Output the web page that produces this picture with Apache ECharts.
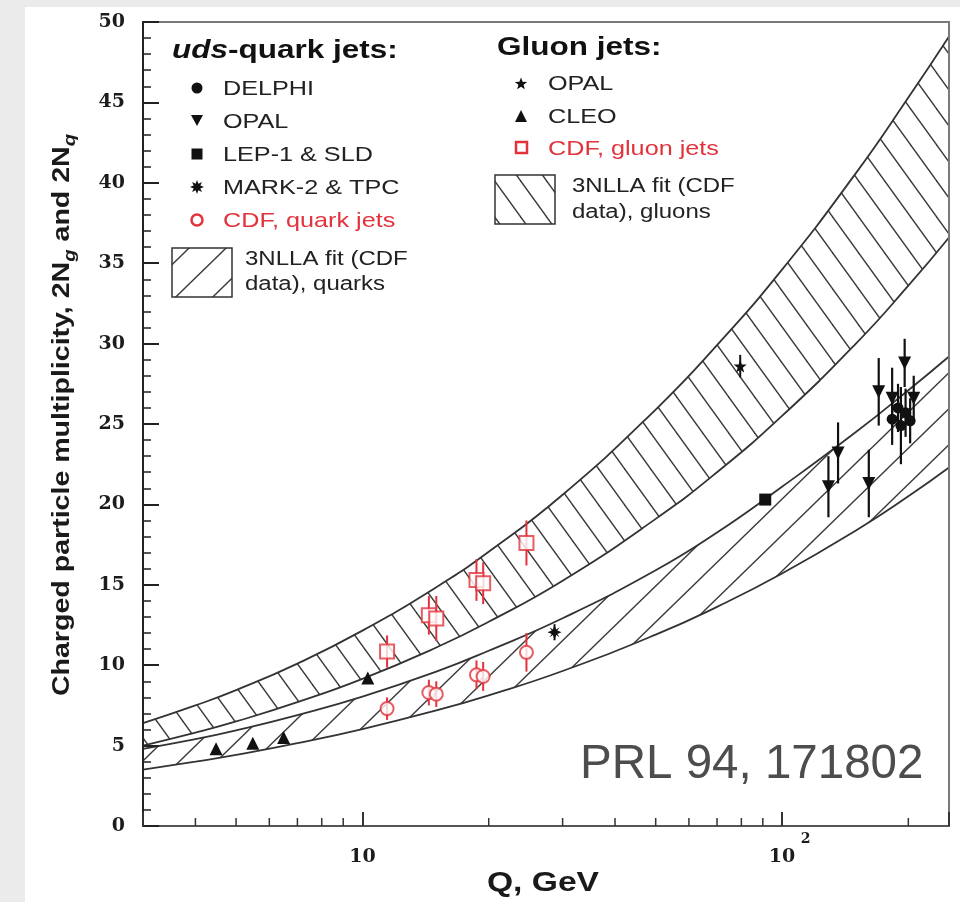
<!DOCTYPE html>
<html>
<head>
<meta charset="utf-8">
<script src="https://cdn.jsdelivr.net/npm/echarts@6.0.0/dist/echarts.min.js"></script>
<style>
  html, body { margin: 0; padding: 0; background: #ebebeb; }
  #panel { position: absolute; left: 25px; top: 7px; width: 935px; height: 895px; background: #fff; }
  #chart { position: absolute; left: 0; top: 0; width: 960px; height: 902px; }
</style>
</head>
<body>
<div id="panel"></div>
<div id="chart"></div>
<script>
// ---- 3NLLA fit bands (CDF data), tabulated at these energies Q (GeV) ----
const fitQ           = [3,   4,   5,    7,    10,    15,    20,    30,    50,   70,    100,  150,   200,   250];
const gluonFitUpper  = [6.4, 7.5, 8.45, 10.1, 12.15, 14.85, 17.05, 20.6,  25.9, 29.9,  34.6, 40.6,  45.3,  49.1];
const gluonFitLower  = [5.0, 5.8, 6.5,  7.7,  9.15,  11.1,  12.7,  15.25, 19.1, 22.0,  25.5, 30.0,  33.6,  36.6];
const quarkFitUpper  = [4.8, 5.4, 5.95, 6.9,  8.05,  9.6,   10.9,  12.92, 15.9, 18.25, 21.1, 24.5,  27.1,  29.2];
const quarkFitLower  = [3.5, 4.0, 4.42, 5.15, 6.03,  7.19,  8.13,  9.64,  11.9, 13.63, 15.7, 18.38, 20.51, 22.3];

// ---- measurements: [Q (GeV), 2N, error] ----
const delphiQuark = [[183, 25.3, 1.6], [189, 26.0, 1.5], [192, 24.9, 2.4], [197, 25.7, 1.5], [202, 25.2, 1.4]];
const opalQuark   = [[129, 21.1, 1.9], [136, 23.2, 1.9], [161, 21.3, 2.1], [170, 27.0, 2.1], [183, 26.6, 1.9], [196, 28.8, 1.5], [206, 26.6, 1.4]];
const lepSldQuark = [[91.2, 20.3, 0.3]];
const mark2Quark  = [[28.7, 12.05, 0.5]];
const cdfQuark    = [[11.45, 7.3, 0.7], [14.4, 8.3, 0.8], [15.0, 8.2, 0.8], [18.7, 9.4, 0.9], [19.4, 9.3, 0.9], [24.6, 10.8, 1.2]];
const opalGluon   = [[79.5, 28.6, 0.7]];
const cleoGluon   = [[4.48, 4.8, 0.1], [5.48, 5.15, 0.1], [6.49, 5.5, 0.1], [10.3, 9.2, 0.15]];
const cdfGluon    = [[11.45, 10.85, 1.0], [14.4, 13.1, 1.2], [15.0, 12.9, 1.4], [18.7, 15.3, 1.3], [19.4, 15.1, 1.3], [24.6, 17.6, 1.4]];

// ---- axis ticks ----
const yTickValues   = [0, 5, 10, 15, 20, 25, 30, 35, 40, 45, 50];
const xLabelValues  = [10, 100];
const xMinorTicks   = [4, 5, 6, 7, 8, 9, 20, 30, 40, 50, 60, 70, 80, 90, 200];

const RED = '#e2333c';
const INK = '#222';
const LINE = '#333';

// Hatch tile: dir = 1 draws '\' strokes, dir = -1 draws '/' strokes
function hatch(w, h, dir, lw, color) {
  const c = document.createElement('canvas');
  c.width = w; c.height = h;
  const g = c.getContext('2d');
  g.fillStyle = '#fff'; g.fillRect(0, 0, w, h);
  g.strokeStyle = color; g.lineWidth = lw;
  for (let k = -1; k <= 1; k++) {
    g.beginPath();
    if (dir > 0) { g.moveTo(-w, -h + k * h); g.lineTo(2 * w, 2 * h + k * h); }
    else { g.moveTo(-w, 2 * h + k * h); g.lineTo(2 * w, -h + k * h); }
    g.stroke();
  }
  return c;
}
const gluonHatch = { image: hatch(26, 36, 1, 1.4, '#3a3a3a'), repeat: 'repeat' };
const quarkHatch = { image: hatch(37, 36, -1, 1.4, '#3a3a3a'), repeat: 'repeat' };

function pairs(xs, ys) { return xs.map((x, i) => [x, ys[i]]); }

// Each curve fills down to the axis; the hatched fill of an upper edge is
// cut back by the opaque white fill of the matching lower edge.
function curve(name, values, fill) {
  return {
    name: name, type: 'line', data: pairs(fitQ, values), smooth: true,
    symbol: 'none', silent: true, z: 1,
    lineStyle: { color: LINE, width: 1.8 },
    areaStyle: { color: fill, opacity: 1, origin: 'start' }
  };
}

function errorBars(points, color, width) {
  return {
    type: 'custom', silent: true, z: 3,
    data: points, encode: { x: 0, y: 1 },
    renderItem(params, api) {
      const q = api.value(0), n = api.value(1), e = api.value(2);
      const hi = api.coord([q, n + e]), lo = api.coord([q, n - e]);
      return { type: 'line', shape: { x1: hi[0], y1: hi[1], x2: lo[0], y2: lo[1] },
               style: { stroke: color, lineWidth: width } };
    }
  };
}

function markers(points, symbol, size, color, extra) {
  return Object.assign({
    type: 'scatter', z: 4, silent: true,
    data: points.map(p => [p[0], p[1]]),
    symbol: symbol, symbolSize: size,
    itemStyle: { color: color, opacity: 1 }
  }, extra || {});
}

const STAR5 = 'path://M50,2L61.8,35.6L97.5,36.2L69,57.9L79.4,92L50,71.7L20.6,92L31,57.9L2.5,36.2L38.2,35.6Z';
const STAR8 = 'path://M50,0L62,30L86,14L70,38L100,50L70,62L86,86L62,70L50,100L38,70L14,86L30,62L0,50L30,38L14,14L38,30Z';

function starPoints(cx, cy, rOut, rIn, n) {
  const pts = [];
  for (let i = 0; i < 2 * n; i++) {
    const r = i % 2 ? rIn : rOut;
    const a = -Math.PI / 2 + i * Math.PI / n;
    pts.push([cx + r * Math.cos(a), cy + r * Math.sin(a)]);
  }
  return pts;
}

function txt(x, y, text, size, color, opts) {
  opts = opts || {};
  return {
    type: 'text', x: x, y: y, z: 10, silent: true,
    scaleX: opts.scaleX || 1.2, rotation: opts.rotation || 0,
    style: {
      text: text, fill: color,
      fontSize: size, fontWeight: opts.weight || 'normal',
      fontFamily: opts.family || '"Liberation Sans", Arial, sans-serif',
      align: opts.align || 'left', verticalAlign: 'middle',
      lineHeight: opts.lineHeight, rich: opts.rich
    }
  };
}

const legendGraphics = [
  // quark-jet legend
  txt(172, 51, '{i|uds}-quark jets:', 25, '#111', { weight: 'bold', scaleX: 1.26,
      rich: { i: { fontStyle: 'italic', fontWeight: 'bold', fontSize: 25, fill: '#111',
                   fontFamily: '"Liberation Sans", Arial, sans-serif' } } }),
  { type: 'circle', z: 10, silent: true, shape: { cx: 197, cy: 88, r: 5.5 }, style: { fill: '#111' } },
  txt(223, 89, 'DELPHI', 21, INK),
  { type: 'polygon', z: 10, silent: true, shape: { points: [[191, 115], [203, 115], [197, 126]] }, style: { fill: '#111' } },
  txt(223, 122, 'OPAL', 21, INK),
  { type: 'rect', z: 10, silent: true, shape: { x: 191.5, y: 148.5, width: 11, height: 11 }, style: { fill: '#111' } },
  txt(223, 155, 'LEP-1 & SLD', 21, INK),
  { type: 'polygon', z: 10, silent: true, shape: { points: starPoints(197, 187, 7, 3.6, 8) }, style: { fill: '#111' } },
  txt(223, 188, 'MARK-2 & TPC', 21, INK),
  { type: 'circle', z: 10, silent: true, shape: { cx: 197, cy: 220, r: 5.5 }, style: { fill: '#fff', stroke: RED, lineWidth: 2.5 } },
  txt(223, 221, 'CDF, quark jets', 21, RED),
  { type: 'rect', z: 10, silent: true, shape: { x: 172, y: 248, width: 60, height: 49 },
    style: { fill: quarkHatch, stroke: LINE, lineWidth: 1.5 } },
  txt(245, 259, '3NLLA fit (CDF', 20, INK),
  txt(245, 284, 'data), quarks', 20, INK),

  // gluon-jet legend
  txt(497, 48, 'Gluon jets:', 25, '#111', { weight: 'bold', scaleX: 1.26 }),
  { type: 'polygon', z: 10, silent: true, shape: { points: starPoints(521, 84, 6.5, 2.7, 5) }, style: { fill: '#111' } },
  txt(548, 84, 'OPAL', 21, INK),
  { type: 'polygon', z: 10, silent: true, shape: { points: [[515, 122], [527, 122], [521, 110]] }, style: { fill: '#111' } },
  txt(548, 117, 'CLEO', 21, INK),
  { type: 'rect', z: 10, silent: true, shape: { x: 516, y: 142, width: 11, height: 11 }, style: { fill: '#fff', stroke: RED, lineWidth: 2.5 } },
  txt(548, 149, 'CDF, gluon jets', 21, RED),
  { type: 'rect', z: 10, silent: true, shape: { x: 495, y: 175, width: 60, height: 49 },
    style: { fill: gluonHatch, stroke: LINE, lineWidth: 1.5 } },
  txt(572, 186, '3NLLA fit (CDF', 20, INK),
  txt(572, 212, 'data), gluons', 20, INK),

  // axis titles
  txt(62, 415, 'Charged particle multiplicity, 2N{s|g} and 2N{s|q}', 24, '#1a1a1a', {
      weight: 'bold', scaleX: 1.19, rotation: Math.PI / 2, align: 'center', lineHeight: 34,
      rich: { s: { fontSize: 17, fontStyle: 'italic', fontWeight: 'bold', verticalAlign: 'bottom',
                   lineHeight: 18, fill: '#1a1a1a', fontFamily: '"Liberation Sans", Arial, sans-serif' } } }),
  txt(543, 883, 'Q, GeV', 28, '#1a1a1a', { weight: 'bold', scaleX: 1.2, align: 'center' }),

  // reference note
  txt(580, 765, 'PRL 94, 171802', 48, '#4d4d4d', { scaleX: 0.99 })
];

const serifLabel = { fontFamily: '"DejaVu Serif", serif', fontWeight: 'bold', color: '#1c1c1c' };

const chart = echarts.init(document.getElementById('chart'), null, { renderer: 'canvas' });
chart.setOption({
  animation: false,
  backgroundColor: 'transparent',
  grid: { left: 143, right: 11, top: 22, bottom: 76, show: true, z: 5, borderColor: '#7a7a7a', borderWidth: 2,
          backgroundColor: 'transparent', containLabel: false, outerBoundsMode: 'none' },
  xAxis: {
    type: 'log', logBase: 10, min: 3, max: 250, z: 5,
    axisLine: { show: true, lineStyle: { color: '#555', width: 2 } },
    axisTick: { show: true, inside: true, length: 14, lineStyle: { color: LINE, width: 2 } },
    minorTick: { show: false },
    splitLine: { show: false },
    axisLabel: {
      show: true, margin: 6,
      formatter: function (v) {
        if (Math.abs(v - xLabelValues[0]) < 1e-6) return '{sup| }\n{b|10}';
        if (Math.abs(v - xLabelValues[1]) < 1e-6) return '{sup|2}\n{b|10}';
        return '';
      },
      rich: {
        b: Object.assign({ fontSize: 19, lineHeight: 22, verticalAlign: 'middle' }, serifLabel),
        sup: Object.assign({ fontSize: 14, lineHeight: 14, verticalAlign: 'middle', padding: [0, 0, 0, 47] }, serifLabel)
      }
    }
  },
  yAxis: {
    type: 'value', min: yTickValues[0], max: yTickValues[yTickValues.length - 1], interval: 5, z: 5,
    axisLine: { show: true, lineStyle: { color: INK, width: 2 } },
    axisTick: { show: true, inside: true, length: 16, lineStyle: { color: INK, width: 2 } },
    minorTick: { show: true, splitNumber: 5, length: 8, lineStyle: { color: INK, width: 1.5 } },
    splitLine: { show: false },
    axisLabel: Object.assign({ fontSize: 19, margin: 18 }, serifLabel)
  },
  graphic: { elements: legendGraphics },
  series: [
    curve('gluon fit, upper', gluonFitUpper, gluonHatch),
    curve('gluon fit, lower', gluonFitLower, '#fff'),
    curve('quark fit, upper', quarkFitUpper, quarkHatch),
    curve('quark fit, lower', quarkFitLower, '#fff'),
    {
      type: 'custom', silent: true, clip: false, z: 6,
      data: xMinorTicks.map(v => [v, 0]), encode: { x: 0, y: 1 },
      renderItem(params, api) {
        const p = api.coord([api.value(0), 0]);
        return { type: 'line', shape: { x1: p[0], y1: p[1], x2: p[0], y2: p[1] - 8 },
                 style: { stroke: LINE, lineWidth: 1.5 } };
      }
    },
    errorBars(cdfGluon, RED, 2),
    errorBars(cdfQuark, RED, 2),
    errorBars(opalQuark, '#111', 2.2),
    errorBars(delphiQuark, '#111', 2.2),
    errorBars(opalGluon, '#111', 2),
    errorBars(mark2Quark, '#111', 2),
    markers(cdfGluon, 'emptyRect', 14, RED, { itemStyle: { color: RED, borderColor: RED, borderWidth: 2.2 } }),
    markers(cdfQuark, 'emptyCircle', 13, RED, { itemStyle: { color: RED, borderColor: RED, borderWidth: 2.2 } }),
    markers(cleoGluon, 'triangle', 13, '#111'),
    markers(opalGluon, STAR5, 13, '#111'),
    markers(mark2Quark, STAR8, 14, '#111'),
    markers(lepSldQuark, 'rect', 12, '#111'),
    markers(opalQuark, 'triangle', 13, '#111', { symbolRotate: 180 }),
    markers(delphiQuark, 'circle', 11, '#111')
  ]
});
</script>
</body>
</html>
